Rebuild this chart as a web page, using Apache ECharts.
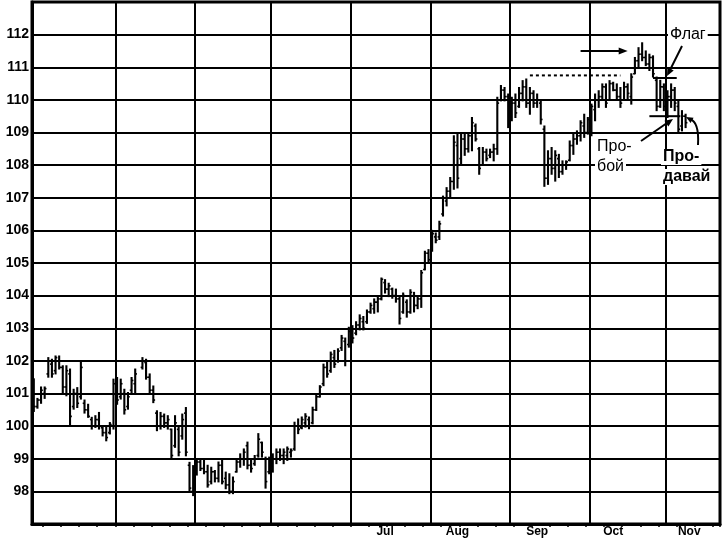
<!DOCTYPE html>
<html><head><meta charset="utf-8">
<script src="https://cdn.jsdelivr.net/npm/echarts@6/dist/echarts.min.js"></script>
<style>html,body{margin:0;padding:0;background:#fff}#c{width:723px;height:541px}</style>
</head><body><div id="c"></div>
<script>
// ---- data (one bar per trading day, index = position on the day axis) ----
const dayCount = 190;
const monthStartDays = [23, 45, 66, 88, 110, 132, 154, 175];
const monthLabelDays = [97, 117, 139, 160, 181];
const monthLabels = ['Jul', 'Aug', 'Sep', 'Oct', 'Nov'];
const firstWeekTickDay = 3;
const yMin = 97, yMax = 113;

const highs = [101.45,100.85,101.2,101.2,102.1,102.05,102.15,102.15,101.85,101.85,
 101.75,101.13,101.18,101.95,100.8,100.67,100.27,100.32,100.42,100.01,
 100.01,100.11,101.44,101.49,101.44,101.13,101.03,101.49,101.75,null,
 102.1,102.05,101.6,101.23,100.47,100.42,100.37,100.32,99.91,100.32,
 100.01,100.37,100.57,98.89,98.79,99.0,99.0,98.95,98.8,98.74,
 98.64,98.9,98.95,98.59,98.54,98.44,98.95,99.15,99.3,99.51,
 98.95,99.1,99.77,99.51,99.05,99.05,99.15,99.3,99.3,99.3,
 99.36,99.3,100.12,100.22,100.28,100.38,100.28,100.58,100.94,101.24,
 101.9,102.0,102.27,102.32,102.37,102.78,102.7,103.03,103.08,103.2,
 103.41,103.36,103.56,103.77,103.9,103.97,104.54,104.49,104.38,104.23,
 104.2,103.95,104.08,103.87,104.18,104.1,103.97,104.77,105.36,105.41,
 106.0,105.92,106.28,107.05,107.31,107.62,108.9,109.0,108.95,109.0,
 109.0,109.46,109.26,108.54,108.54,108.49,108.49,108.64,110.08,110.44,
 110.38,110.18,110.08,110.18,110.38,110.59,110.64,110.38,110.28,110.18,
 109.97,109.2,108.44,108.54,108.44,108.33,108.13,108.13,108.74,108.95,
 109.05,109.36,109.56,109.46,109.87,110.18,110.28,110.49,110.49,110.59,
 110.54,110.49,110.38,110.54,110.49,110.8,111.3,111.6,111.75,111.5,
 111.4,111.35,110.7,110.6,110.49,110.28,110.49,110.38,109.97,109.67,
 109.56];
const lows = [100.45,100.55,100.7,100.85,101.5,101.5,101.6,101.75,101.03,100.93,
 100.0,100.52,100.57,100.83,100.4,100.27,99.91,99.96,99.91,99.7,
 99.55,99.76,99.91,100.67,100.83,100.37,100.52,101.03,101.03,null,
 101.75,101.44,100.98,100.72,99.86,99.91,99.96,99.91,98.99,99.35,
 99.09,99.6,99.09,97.97,97.87,98.5,98.64,98.54,98.13,98.23,
 98.29,98.29,98.23,98.08,97.93,97.93,98.59,98.74,98.8,98.69,
 98.59,98.8,99.05,99.05,98.1,98.54,98.59,98.85,98.95,98.85,
 98.95,99.05,99.26,99.77,99.92,99.97,99.92,100.07,100.48,100.89,
 101.24,101.5,101.65,101.8,101.96,102.32,101.85,102.42,102.55,102.8,
 102.95,102.95,103.15,103.46,103.46,103.5,103.87,104.08,103.97,103.92,
 103.8,103.13,103.46,103.34,103.46,103.5,103.6,103.64,104.79,105.0,
 105.36,105.62,105.72,106.44,106.75,107.0,107.26,107.3,108.03,108.3,
 108.4,108.44,108.74,107.72,108.03,108.13,108.23,108.13,108.33,109.97,
 109.97,109.15,109.36,109.46,109.77,109.97,109.77,109.56,109.77,109.77,
 109.26,107.35,107.41,107.72,107.51,107.62,107.72,107.87,108.13,108.33,
 108.64,108.74,108.85,108.95,108.9,109.36,109.77,110.0,109.77,110.0,
 110.28,110.0,109.77,110.03,110.03,109.87,110.8,111.0,111.2,111.05,
 110.9,110.7,109.67,109.77,109.67,109.46,109.77,109.67,109.0,109.05,
 109.15];
const opens = [101.3,100.6,100.8,101.0,101.6,101.9,101.7,102.0,101.8,101.2,
 101.6,100.6,101.0,100.9,100.7,100.5,100.2,100.0,100.2,99.95,
 99.8,99.8,100.0,101.3,100.9,101.0,100.6,101.1,101.3,null,
 101.8,101.95,101.5,101.1,100.4,100.0,100.3,100.1,99.9,99.4,
 99.9,99.7,100.4,98.8,98.0,98.6,98.9,98.7,98.6,98.3,
 98.6,98.4,98.8,98.4,98.2,98.0,98.6,98.9,99.0,99.4,
 98.8,98.85,99.1,99.5,99.0,98.6,98.9,99.0,99.2,99.1,
 99.1,99.2,99.3,100.0,99.95,100.1,100.2,100.1,100.5,100.9,
 101.3,101.8,101.7,102.1,102.0,102.4,102.6,102.5,102.9,102.85,
 103.1,103.2,103.2,103.5,103.6,103.8,103.9,104.4,104.2,104.2,
 104.0,103.9,103.5,103.8,103.5,104.0,103.7,103.9,104.8,105.3,
 105.4,105.8,105.8,106.5,106.9,107.2,107.5,108.6,108.2,108.8,
 108.5,108.9,109.2,108.5,108.0,108.4,108.3,108.4,108.5,110.0,
 110.3,110.1,109.5,109.9,109.8,110.2,110.4,109.9,110.2,109.9,
 109.9,109.1,107.6,108.2,107.9,108.2,107.8,108.0,108.15,108.6,
 108.8,108.9,109.2,109.0,109.3,109.7,110.0,110.1,110.4,110.0,
 110.5,110.3,110.1,110.0,110.4,110.1,110.8,111.2,111.4,111.3,
 111.1,111.3,110.6,109.8,110.4,109.8,110.1,110.3,109.8,109.2,
 109.5];
const closes = [100.6,100.8,101.1,101.15,102.0,101.6,102.1,101.8,101.2,101.7,
 100.3,101.0,100.7,101.8,100.5,100.3,100.0,100.2,100.0,99.8,
 99.65,100.05,101.3,100.8,101.3,100.5,100.9,101.4,101.6,null,
 102.0,101.5,101.1,100.8,100.0,100.3,100.1,100.2,99.1,100.1,
 99.2,100.2,99.2,98.1,98.6,98.9,98.7,98.6,98.2,98.6,
 98.4,98.8,98.3,98.2,98.0,98.3,98.9,99.0,99.2,98.8,
 98.7,99.0,99.6,99.2,98.3,98.9,99.0,99.2,99.1,99.2,
 99.3,99.25,100.0,99.9,100.2,100.3,100.0,100.5,100.9,101.2,
 101.8,101.6,102.2,101.9,102.3,102.7,102.0,102.9,102.7,103.1,
 103.3,103.0,103.5,103.7,103.8,103.9,104.5,104.2,104.3,104.0,
 103.9,103.3,104.0,103.5,104.1,103.7,103.9,104.7,105.3,105.1,
 105.9,105.7,106.2,107.0,107.2,107.5,108.7,107.6,108.8,108.5,
 108.9,109.3,108.8,107.9,108.4,108.2,108.4,108.5,109.9,110.3,
 110.1,109.4,109.9,109.6,110.2,110.4,109.9,110.2,109.9,110.0,
 109.4,107.6,108.2,107.9,108.3,107.8,108.0,108.1,108.6,108.8,
 108.9,109.3,109.0,109.4,109.8,110.0,110.1,110.4,109.9,110.5,
 110.3,110.1,109.9,110.4,110.2,110.7,111.2,111.4,111.3,111.1,
 111.3,110.8,109.8,110.4,109.8,110.1,110.3,109.9,109.1,109.5,
 109.3];

// annotation levels: [fromDay, toDay, price]
const resistanceLine = [137, 162, 110.75];
const trendArrow = [151, 164, 111.5];
const flagTop = [171, 177, 110.67];
const flagBottom = [170, 178, 109.5];

// ---- chart ----
const days = Array.from({length: dayCount}, (_, i) => 'd' + i);
const ohlc = [];
for (let i = 0; i < highs.length; i++) {
  if (highs[i] == null) continue;
  ohlc.push([i, opens[i], highs[i], lows[i], closes[i]]);
}

function renderItem(params, api) {
  const x = api.value(0);
  const o = api.coord([x, api.value(1)]);
  const h = api.coord([x, api.value(2)]);
  const l = api.coord([x, api.value(3)]);
  const c = api.coord([x, api.value(4)]);
  const w = api.size([1, 0])[0] * 0.5;
  const st = {stroke: '#000', lineWidth: 2.1};
  return {type: 'group', children: [
    {type: 'line', shape: {x1: h[0], y1: h[1] - 0.5, x2: l[0], y2: l[1] + 0.5}, style: st},
    {type: 'line', shape: {x1: o[0] - w, y1: o[1], x2: o[0], y2: o[1]}, style: {stroke: '#000', lineWidth: 1.6}},
    {type: 'line', shape: {x1: c[0], y1: c[1], x2: c[0] + w, y2: c[1]}, style: {stroke: '#000', lineWidth: 1.6}}
  ]};
}

const chart = echarts.init(document.getElementById('c'), null, {renderer: 'canvas'});
chart.setOption({
  animation: false,
  backgroundColor: '#fff',
  grid: {left: 32, right: 3, top: 2, bottom: 17, show: true, borderColor: '#000', borderWidth: 3, containLabel: false},
  xAxis: {
    type: 'category', data: days, boundaryGap: true,
    axisLine: {show: true, lineStyle: {color: '#000', width: 3}},
    axisTick: {show: true, length: 3, lineStyle: {color: '#000', width: 1.5},
      interval: (i) => i >= firstWeekTickDay && (i - firstWeekTickDay) % 5 === 0},
    axisLabel: {show: true, color: '#000', fontSize: 12, fontWeight: 'bold', fontFamily: 'Liberation Sans', margin: 2,
      interval: (i) => monthLabelDays.indexOf(i) >= 0,
      formatter: (v, i) => { const k = monthLabelDays.indexOf(i); return k >= 0 ? monthLabels[k] : ''; }},
    splitLine: {show: true, lineStyle: {color: '#000', width: 2},
      interval: (i) => monthStartDays.indexOf(i) >= 0}
  },
  yAxis: {
    type: 'value', min: yMin, max: yMax, interval: 1,
    axisLine: {show: true, lineStyle: {color: '#000', width: 3}},
    axisTick: {show: false},
    axisLabel: {color: '#000', fontSize: 14, fontWeight: 'bold', fontFamily: 'Liberation Sans', margin: 3,
      showMinLabel: false, showMaxLabel: false},
    splitLine: {show: true, lineStyle: {color: '#000', width: 2}}
  },
  series: [{
    type: 'custom', renderItem: renderItem, data: ohlc,
    encode: {x: 0, y: [1, 2, 3, 4]}, clip: false, z: 5
  }]
});

// ---- annotations (placed via the chart's own scales) ----
function px(d, v) { return chart.convertToPixel({xAxisIndex: 0, yAxisIndex: 0}, [d, v]); }
function head(x1, y1, x2, y2, len, half) {
  const a = Math.atan2(y2 - y1, x2 - x1);
  const bx = x2 - len * Math.cos(a), by = y2 - len * Math.sin(a);
  const nx = -Math.sin(a) * half, ny = Math.cos(a) * half;
  return {type: 'polygon', shape: {points: [[x2, y2], [bx + nx, by + ny], [bx - nx, by - ny]]}, style: {fill: '#000'}, z: 20};
}
function seg(x1, y1, x2, y2, w, dash) {
  return {type: 'line', shape: {x1, y1, x2, y2}, style: {stroke: '#000', lineWidth: w, lineDash: dash || null}, z: 20};
}
const g = [];
let a = px(resistanceLine[0], resistanceLine[2]), b = px(resistanceLine[1], resistanceLine[2]);
g.push(seg(a[0], a[1], b[0], b[1], 2, [3, 3]));
a = px(trendArrow[0], trendArrow[2]); b = px(trendArrow[1], trendArrow[2]);
g.push(seg(a[0], a[1], b[0] - 6, b[1], 2));
g.push(head(a[0], a[1], b[0], b[1], 9, 3.5));
a = px(flagTop[0], flagTop[2]); b = px(flagTop[1], flagTop[2]);
g.push(seg(a[0], a[1], b[0] + 2, b[1], 2));
a = px(flagBottom[0], flagBottom[2]); b = px(flagBottom[1], flagBottom[2]);
g.push(seg(a[0], a[1], b[0] + 2, b[1], 2));

// texts
const txt = (x, y, s, bold) => ({type: 'text', x, y, z: 30,
  style: {text: s, fill: '#000', fontSize: 16, fontWeight: bold ? 'bold' : 'normal', fontFamily: 'Liberation Sans',
    verticalAlign: 'middle', align: 'left', backgroundColor: '#fff', padding: [0, 2]}});
g.push(txt(668, 35, 'Флаг', false));
g.push(txt(595, 147, 'Про-', false));
g.push(txt(595, 167, 'бой', false));
g.push(txt(661, 157, 'Про-', true));
g.push(txt(661, 177, 'давай', true));

// pointer arrows
g.push(seg(682, 46, 670, 70, 2));
g.push(head(682, 46, 667, 76, 8, 3.5));
g.push(seg(641, 141, 667, 123, 2));
g.push(head(641, 141, 673, 119, 8, 3.5));
g.push({type: 'bezierCurve', shape: {x1: 698, y1: 145, cpx1: 699, cpy1: 128, x2: 690, y2: 119, cpx2: 696, cpy2: 121},
  style: {stroke: '#000', lineWidth: 2, fill: null}, z: 20});
g.push(head(693, 121, 686, 117, 7, 3));

chart.setOption({graphic: g});
</script>
</body></html>
